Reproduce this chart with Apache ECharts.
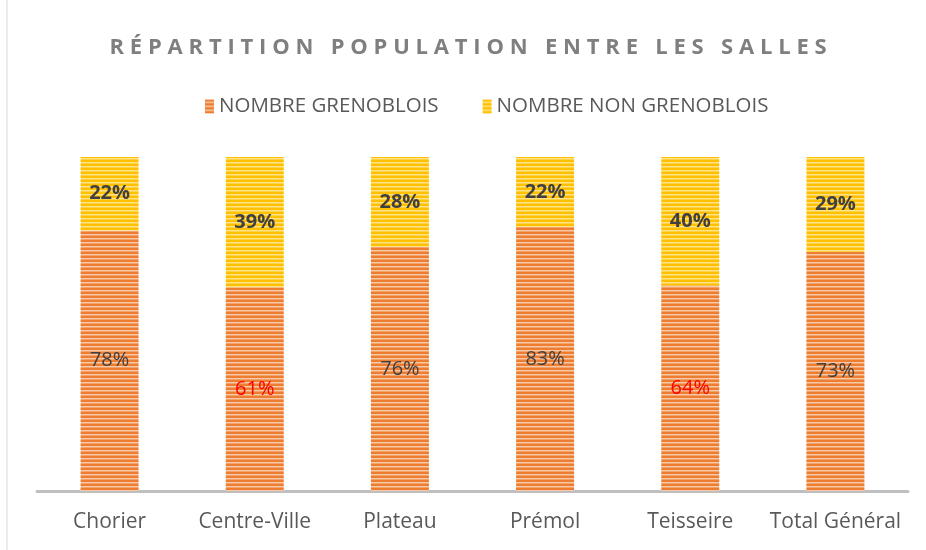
<!DOCTYPE html>
<html>
<head>
<meta charset="utf-8">
<script src="https://cdn.jsdelivr.net/npm/echarts@6/dist/echarts.min.js"></script>
<style>
  html, body { margin: 0; padding: 0; background: #fff; }
  #wrap { position: relative; width: 926px; height: 550px; }
  #chart { width: 926px; height: 550px; }
  #title {
    position: absolute; left: 8px; top: 30px; width: 926px; text-align: center;
    font-family: "Open Sans", sans-serif; font-weight: bold; font-size: 22px;
    color: #7f7f7f; letter-spacing: 5.8px; line-height: 30px;
  }
</style>
</head>
<body>
<div id="wrap">
  <div id="chart"></div>
  <div id="title">RÉPARTITION POPULATION ENTRE LES SALLES</div>
</div>
<script>
// salles
const salles = ["Chorier", "Centre-Ville", "Plateau", "Prémol", "Teisseire", "Total Général"];
// pourcentages affichés (étiquettes)
const grenoblois = [78, 61, 76, 83, 64, 73];
const nonGrenoblois = [22, 39, 28, 22, 40, 29];
const seriesNames = ["NOMBRE GRENOBLOIS", "NOMBRE NON GRENOBLOIS"];

// motif rayé horizontal
function stripes(base, light) {
  const c = document.createElement("canvas");
  c.width = 4;
  c.height = 4;
  const ctx = c.getContext("2d");
  ctx.fillStyle = base;
  ctx.fillRect(0, 0, 4, 4);
  ctx.fillStyle = light;
  ctx.fillRect(0, 2, 4, 1.5);
  return { image: c, repeat: "repeat" };
}

const orange = stripes("#ed7d31", "#f8c9a8");
const jaune = stripes("#ffc000", "#ffe38a");

// 100% empilé : normalisation sur la somme
const pct = (a, b) => a.map((v, i) => (v / (v + b[i])) * 100);
const gNorm = pct(grenoblois, nonGrenoblois);
const nNorm = pct(nonGrenoblois, grenoblois);

const chart = echarts.init(document.getElementById("chart"));
chart.setOption({
  animation: false,
  textStyle: { fontFamily: "Open Sans" },
  legend: {
    top: 91,
    left: 200,
    itemWidth: 9,
    itemHeight: 14,
    itemGap: 44,
    icon: "rect",
    textStyle: { color: "#595959", fontSize: 20.5, fontFamily: "Open Sans" },
    data: seriesNames,
  },
  grid: { left: 37, right: 18, top: 157, bottom: 59 },
  xAxis: {
    type: "category",
    data: salles,
    axisTick: { show: false },
    axisLine: { lineStyle: { color: "#bfbfbf", width: 3 } },
    axisLabel: { color: "#595959", fontSize: 21, margin: 21, interval: 0 },
  },
  yAxis: {
    type: "value",
    min: 0,
    max: 100,
    show: false,
    splitLine: { show: false },
  },
  series: [
    {
      name: seriesNames[0],
      type: "bar",
      stack: "tot",
      barWidth: 58,
      itemStyle: { color: orange },
      label: {
        show: true,
        position: "inside",
        fontSize: 20,
        formatter: (p) => grenoblois[p.dataIndex] + "%",
      },
      data: gNorm.map((v, i) => ({
        value: v,
        label: { color: grenoblois[i] < 70 ? "#ff0000" : "#404040" },
      })),
    },
    {
      name: seriesNames[1],
      type: "bar",
      stack: "tot",
      barWidth: 58,
      itemStyle: { color: jaune },
      label: {
        show: true,
        position: "inside",
        fontSize: 20,
        fontWeight: "bold",
        color: "#404040",
        formatter: (p) => nonGrenoblois[p.dataIndex] + "%",
      },
      data: nNorm,
    },
  ],
  graphic: [
    {
      type: "line",
      shape: { x1: 7, y1: 0, x2: 7, y2: 550 },
      style: { stroke: "#ececec", lineWidth: 2 },
    },
  ],
});
</script>
</body>
</html>
